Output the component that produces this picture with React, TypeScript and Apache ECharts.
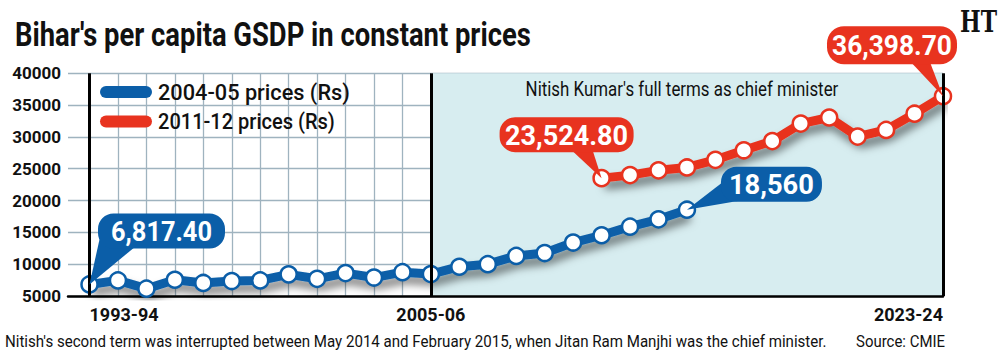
import React, { useEffect, useRef } from "react";
import * as echarts from "echarts";

const categories = [
  "1993-94", "1994-95", "1995-96", "1996-97", "1997-98", "1998-99", "1999-00",
  "2000-01", "2001-02", "2002-03", "2003-04", "2004-05", "2005-06", "2006-07",
  "2007-08", "2008-09", "2009-10", "2010-11", "2011-12", "2012-13", "2013-14",
  "2014-15", "2015-16", "2016-17", "2017-18", "2018-19", "2019-20", "2020-21",
  "2021-22", "2022-23", "2023-24",
];

const blueYears = categories.slice(0, 22);
const blueValues = [
  6817.4, 7450, 6150, 7550, 7050, 7350, 7450, 8400, 7700, 8600, 7900,
  8750, 8450, 9600, 10000, 11300, 11750, 13400, 14550, 15900, 17050, 18560,
];

const redYears = categories.slice(18);
const redValues = [
  23524.8, 24000, 24750, 25200, 26400, 27900, 29350, 32100, 33050, 30050,
  31100, 33650, 36398.7,
];

const shownXLabels = ["1993-94", "2005-06", "2023-24"];
const markerYears = ["1993-94", "2005-06", "2023-24"];
const termStart = "2005-06";
const termEnd = "2023-24";

const blueName = "2004-05 prices (Rs)";
const redName = "2011-12 prices (Rs)";
const titleText = "Bihar's per capita GSDP in constant prices";
const termText = "Nitish Kumar's full terms as chief minister";
const noteText = "Nitish's second term was interrupted between May 2014 and February 2015, when Jitan Ram Manjhi was the chief minister.";
const sourceText = "Source: CMIE";

const BLUE = "#0b5ea8";
const RED = "#e8331f";
const FONT = "Roboto, 'Noto Sans', sans-serif";

function measure(text: string, size: number, weight: string | number, family: string) {
  const ctx = document.createElement("canvas").getContext("2d")!;
  ctx.font = `${weight} ${size}px ${family}`;
  return ctx.measureText(text).width || 1;
}

function fitText(
  text: string, x: number, y: number, size: number, weight: string | number,
  width: number, align: string, fill: string, family = FONT, z = 22,
) {
  const natural = measure(text, size, weight, family);
  return {
    type: "text",
    z,
    x,
    y,
    scaleX: width / natural,
    style: { text, fontSize: size, fontWeight: weight, fontFamily: family, fill, align, verticalAlign: "middle" },
  };
}

export default function App() {
  const ref = useRef<HTMLDivElement>(null);

  useEffect(() => {
    document.body.style.margin = "0";
    if (!ref.current) return;
    const chart = echarts.init(ref.current, undefined, { renderer: "svg" });

    const grids = [
      { left: 68, right: 57, top: 73.3, bottom: 62 },
      { left: 89.5, right: 57, top: 73.3, bottom: 62 },
    ];

    const option: any = {
      animation: false,
      backgroundColor: "#ffffff",
      grid: grids,
      xAxis: [
        {
          gridIndex: 0,
          type: "value",
          min: 0,
          max: 1,
          z: 1,
          axisLine: { show: true, onZero: false, lineStyle: { color: "#000", width: 2.5 } },
          axisTick: { show: false },
          axisLabel: { show: false },
          splitLine: { show: false },
        },
        {
          gridIndex: 1,
          type: "category",
          boundaryGap: false,
          z: 1,
          data: categories.map((c, i) => ({
            value: c,
            textStyle: { align: i === 0 ? "left" : i === categories.length - 1 ? "right" : "center" },
          })),
          axisLine: { show: false },
          axisTick: { show: false },
          axisLabel: {
            interval: (i: number, v: string) => shownXLabels.includes(v),
            fontSize: 18,
            fontWeight: "bold",
            color: "#111",
            fontFamily: FONT,
            margin: 9,
          },
          splitLine: { show: true, interval: 0, lineStyle: { color: "#9fb3bf", width: 1.3 } },
        },
      ],
      yAxis: [
        {
          gridIndex: 0,
          type: "value",
          min: 5000,
          max: 40000,
          interval: 5000,
          z: 1,
          axisLine: { show: false },
          axisTick: { show: false },
          axisLabel: {
            formatter: (v: number) => String(v),
            fontSize: 17, fontWeight: "bold", color: "#111", fontFamily: FONT, margin: 7,
          },
          splitLine: { show: true, lineStyle: { color: "#9fb3bf", width: 1.3 } },
        },
        {
          gridIndex: 1,
          type: "value",
          min: 5000,
          max: 40000,
          interval: 5000,
          show: false,
          splitLine: { show: false },
        },
      ],
      series: [
        {
          name: "shade",
          type: "line",
          xAxisIndex: 1,
          yAxisIndex: 1,
          z: 0,
          data: [],
          silent: true,
          markArea: {
            silent: true,
            itemStyle: { color: "#d7edf0" },
            label: { show: false },
            data: [[
              { xAxis: termStart, yAxis: 40000 },
              { xAxis: termEnd, yAxis: 5000 },
            ]],
          },
        },
        {
          name: "markers",
          type: "line",
          xAxisIndex: 1,
          yAxisIndex: 1,
          z: 2,
          data: [],
          silent: true,
          markLine: {
            silent: true,
            symbol: "none",
            label: { show: false },
            lineStyle: { color: "#000", width: 3, type: "solid" },
            data: markerYears.map((y) => ({ xAxis: y })),
          },
        },
        {
          name: blueName,
          type: "line",
          xAxisIndex: 1,
          yAxisIndex: 1,
          z: 3,
          data: blueYears.map((y, i) => [y, blueValues[i]]),
          symbol: "circle",
          symbolSize: 16,
          lineStyle: {
            color: BLUE, width: 9,
            shadowColor: "rgba(0,0,0,0.5)", shadowBlur: 8, shadowOffsetX: 3, shadowOffsetY: 7,
          },
          itemStyle: { color: "#fff", borderColor: BLUE, borderWidth: 2.5 },
        },
        {
          name: redName,
          type: "line",
          xAxisIndex: 1,
          yAxisIndex: 1,
          z: 3,
          data: redYears.map((y, i) => [y, redValues[i]]),
          symbol: "circle",
          symbolSize: 16,
          lineStyle: {
            color: RED, width: 9,
            shadowColor: "rgba(0,0,0,0.5)", shadowBlur: 8, shadowOffsetX: 3, shadowOffsetY: 7,
          },
          itemStyle: { color: "#fff", borderColor: RED, borderWidth: 2.5 },
        },
      ],
    };

    chart.setOption(option);

    const callouts = [
      { series: 2, year: blueYears[0], value: blueValues[0], text: "6,817.40", color: BLUE, box: [8.5, -71, 127, 35], tw: 101, base: [[10, -45], [46, -38]] },
      { series: 2, year: blueYears[blueYears.length - 1], value: blueValues[blueValues.length - 1], text: "18,560", color: BLUE, box: [34, -43, 101, 35], tw: 85, base: [[35, -27], [58, -10]] },
      { series: 3, year: redYears[0], value: redValues[0], text: "23,524.80", color: RED, box: [-102, -61, 134, 35], tw: 123, base: [[-30, -28], [-9, -28]] },
      { series: 3, year: redYears[redYears.length - 1], value: redValues[redValues.length - 1], text: "36,398.70", color: RED, box: [-116, -70, 130, 38], tw: 120, base: [[-32, -34], [-13, -34]] },
    ];

    const xStart = (chart.convertToPixel({ seriesIndex: 0 }, [termStart, 40000]) as number[])[0];
    const xEnd = (chart.convertToPixel({ seriesIndex: 0 }, [termEnd, 40000]) as number[])[0];

    const graphics: any[] = [
      fitText(titleText, 15, 35, 33, "bold", 516, "left", "#111"),
      fitText("HT", 997, 21, 30, "bold", 37, "right", "#111", "'DejaVu Serif', serif"),
      fitText(noteText, 5, 341, 17, "normal", 822, "left", "#111"),
      fitText(sourceText, 945, 341, 17, "normal", 89, "right", "#111"),
      fitText(termText, (xStart + xEnd) / 2 - 5, 89, 21, "normal", 313, "center", "#111", FONT, 5),
      {
        type: "rect", z: 5,
        shape: { x: 100, y: 86, width: 52, height: 12, r: 6 },
        style: { fill: BLUE },
      },
      fitText(blueName, 158, 92, 22, 500, 192, "left", "#111", FONT, 5),
      {
        type: "rect", z: 5,
        shape: { x: 100, y: 115.5, width: 52, height: 12, r: 6 },
        style: { fill: RED },
      },
      fitText(redName, 158, 121.5, 22, 500, 177, "left", "#111", FONT, 5),
    ];

    callouts.forEach((c) => {
      const [px, py] = chart.convertToPixel({ seriesIndex: c.series }, [c.year, c.value]) as number[];
      const [bx, by, bw, bh] = c.box;
      graphics.push({
        type: "polygon",
        z: 20,
        shape: { points: [[px + c.base[0][0], py + c.base[0][1]], [px + c.base[1][0], py + c.base[1][1]], [px, py]] },
        style: { fill: c.color },
      });
      graphics.push({
        type: "rect",
        z: 21,
        shape: { x: px + bx, y: py + by, width: bw, height: bh, r: bh / 2 - 2 },
        style: { fill: c.color },
      });
      graphics.push(fitText(c.text, px + bx + bw / 2, py + by + bh / 2 + 1, 27, "bold", c.tw, "center", "#fff"));
    });

    chart.setOption({ graphic: graphics });

    return () => chart.dispose();
  }, []);

  return <div ref={ref} style={{ width: 1000, height: 358 }} />;
}
